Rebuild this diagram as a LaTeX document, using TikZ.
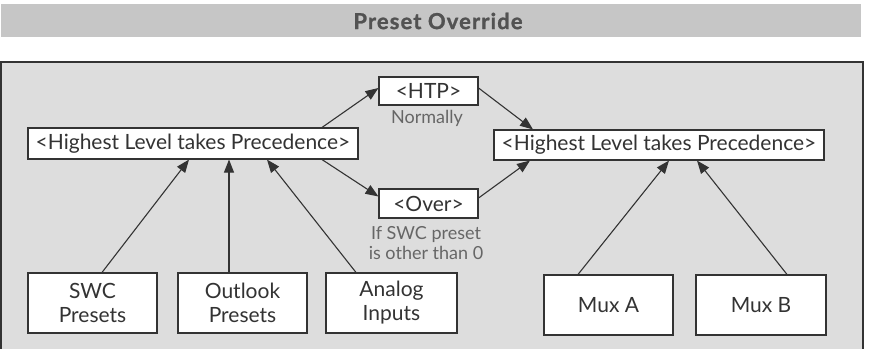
\documentclass[tikz,border=0pt]{standalone}
\usepackage{fontspec}
\setmainfont{Lato}
\usetikzlibrary{arrows.meta}
\definecolor{framebg}{HTML}{DDDDDD}
\definecolor{titlebg}{HTML}{C6C6C6}
\definecolor{ink}{HTML}{333333}
\definecolor{soft}{HTML}{666666}
\tikzset{
  boxnode/.style={draw=ink, line width=1.1pt, fill=white, inner sep=0pt, text=ink,
    font=\fontsize{21}{24}\selectfont, align=center},
  notenode/.style={inner sep=0pt, text=soft, font=\fontsize{18}{20}\selectfont, align=center},
  arr/.style={draw=ink, line width=1.1pt, -{Triangle[length=13pt,width=10pt]}},
}
\begin{document}
\begin{tikzpicture}[x=1pt,y=-1pt]
\useasboundingbox (0,0) rectangle (869,348);
\fill[white] (0,0) rectangle (869,348);
% title bar
\fill[titlebg] (1,4) rectangle (861,37);
\node[inner sep=0pt, text=ink!85, font=\fontsize{22}{24}\selectfont\bfseries\addfontfeature{LetterSpace=5,FakeBold=1.2}] (title) at (438,21) {Preset Override};
% frame
\begin{scope}
\clip (0,0) rectangle (869,348);
\draw[draw=ink, line width=1.6pt, fill=framebg] (1,62) rectangle (863,360);
\end{scope}
% nodes
\node[boxnode, minimum width=330pt, minimum height=31pt] (hlpL) at (193,143.5) {<Highest Level takes Precedence>};
\node[boxnode, minimum width=330pt, minimum height=30pt] (hlpR) at (659,145) {<Highest Level takes Precedence>};
\node[boxnode, minimum width=99pt, minimum height=28pt] (htp) at (428.5,91) {<HTP>};
\node[boxnode, minimum width=99pt, minimum height=29pt] (over) at (428.5,203.5) {<Over>};
\node[notenode] (normally) at (427,118) {Normally};
\node[notenode] (ifswc) at (426,243) {If SWC preset\\is other than 0};
\node[boxnode, minimum width=129pt, minimum height=60pt] (swc) at (92.5,303) {SWC\\Presets};
\node[boxnode, minimum width=129pt, minimum height=60pt] (outlook) at (242.5,303) {Outlook\\Presets};
\node[boxnode, minimum width=131pt, minimum height=60pt] (analog) at (391.5,303) {Analog\\Inputs};
\node[boxnode, minimum width=129pt, minimum height=60pt] (muxa) at (608.5,305) {Mux A};
\node[boxnode, minimum width=130pt, minimum height=60pt] (muxb) at (761,305) {Mux B};
% connectors
\draw[arr] ([xshift=9.5pt]swc.north) -- ([xshift=-4pt]hlpL.south);
\draw[arr] ([xshift=-13.5pt]outlook.north) -- ([xshift=36pt]hlpL.south);
\draw[arr] ([xshift=-35.5pt]analog.north) -- ([xshift=74pt]hlpL.south);
\draw[arr] ([xshift=-30.5pt]muxa.north) -- ([xshift=10pt]hlpR.south);
\draw[arr] ([xshift=26pt]muxb.north) -- ([xshift=38pt]hlpR.south);
\draw[arr] ([xshift=129pt]hlpL.north) -- ([yshift=3pt]htp.west);
\draw[arr] ([xshift=129pt]hlpL.south) -- ([yshift=7pt]over.west);
\draw[arr] ([yshift=3pt]htp.east) -- ([xshift=-126pt]hlpR.north);
\draw[arr] ([yshift=5.5pt]over.east) -- ([xshift=-129pt]hlpR.south);
\end{tikzpicture}
\end{document}
